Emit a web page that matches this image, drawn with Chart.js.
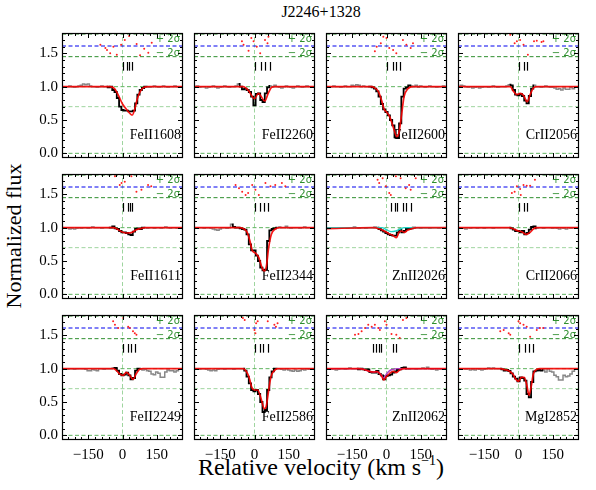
<!DOCTYPE html>
<html>
<head>
<meta charset="utf-8">
<script src="https://cdn.jsdelivr.net/npm/chart.js@4.4.1/dist/chart.umd.min.js"></script>
<style>
body{margin:0;background:#fff;width:596px;height:490px;position:relative;overflow:hidden;font-family:"Liberation Serif",serif}
canvas{position:absolute}
.t{position:absolute;white-space:nowrap;color:#000;transform:translate(-50%,-50%)}
</style>
</head>
<body>
<div class="t" style="left:321px;top:12px;font-size:16px">J2246+1328</div>
<div class="t" style="left:14px;top:236px;font-size:22px;transform:translate(-50%,-50%) rotate(-90deg)">Normalized flux</div>
<div class="t" style="left:321px;top:467px;font-size:24px">Relative velocity (km s<sup style="font-size:14px;vertical-align:10px;line-height:0">&minus;1</sup>)</div>
<script>
// velocity grid (km/s)
const vel = [-260,-250,-240,-230,-220,-210,-200,-190,-180,-170,
  -160,-150,-140,-130,-120,-110,-100,-90,-80,-70,
  -60,-50,-40,-30,-20,-10,0,10,20,30,
  40,50,60,70,80,90,100,110,120,130,
  140,150,160,170,180,190,200,210,220,230,
  240,250,260];

// normalized flux per transition
const fluxFeII1608 = [1.00,0.99,1.00,1.01,1.00,0.99,1.00,1.01,1.02,1.04,
  1.03,1.04,1.01,1.00,1.00,0.99,1.00,1.01,1.00,1.00,
  0.99,1.00,0.95,0.92,0.83,0.70,0.65,0.64,0.64,0.63,
  0.63,0.64,0.75,0.88,0.95,0.98,1.00,1.00,0.99,1.00,
  1.01,1.00,0.99,1.00,1.01,1.00,0.99,1.00,1.00,1.01,
  1.00,0.99,1.00];
const fluxFeII2260 = [1.00,1.01,0.99,1.00,1.00,0.98,0.99,1.00,1.01,1.00,
  0.98,0.99,1.00,1.01,1.00,0.99,1.00,1.00,1.01,1.04,
  1.00,0.96,0.97,0.95,0.92,0.85,0.72,0.89,0.90,0.80,
  0.77,0.90,0.99,1.01,1.00,1.02,1.00,0.99,0.98,1.00,
  1.01,1.00,0.99,0.98,1.00,1.01,1.00,0.99,1.00,1.01,
  1.00,1.00,0.99];
const fluxFeII2600 = [1.00,0.99,1.00,1.01,1.00,1.00,0.99,1.00,1.01,1.00,
  1.00,1.02,1.01,1.03,1.02,1.00,1.01,1.00,1.00,1.00,
  0.99,0.97,0.93,0.85,0.74,0.66,0.62,0.57,0.50,0.42,
  0.24,0.23,0.45,0.85,0.97,0.99,1.02,1.01,1.00,1.02,
  0.99,1.01,1.00,0.99,1.00,1.01,1.00,1.00,0.99,1.00,
  1.00,1.01,1.00];
const fluxCrII2056 = [1.00,1.02,1.01,1.00,0.99,1.00,0.98,0.99,1.00,0.98,
  0.99,1.00,1.00,0.99,1.00,1.01,1.00,0.99,1.00,1.00,
  1.00,1.01,1.03,1.02,0.95,0.88,0.87,0.89,0.86,0.79,
  0.75,0.86,0.97,1.02,1.00,1.00,0.99,1.00,1.01,1.00,
  0.99,0.99,0.98,0.96,0.97,0.95,0.98,0.96,0.96,0.99,
  0.97,1.00,1.00];
const fluxFeII1611 = [1.00,0.99,1.00,0.98,0.99,0.98,0.99,1.00,0.99,1.00,
  1.00,0.99,1.00,1.01,1.00,1.00,1.00,0.99,1.00,1.00,
  1.00,1.00,1.02,0.99,0.98,0.95,0.93,0.93,0.92,0.90,
  0.89,0.94,0.98,0.99,0.98,1.00,1.00,0.99,1.00,1.00,
  0.99,1.00,1.00,0.99,1.00,1.01,1.00,0.99,1.00,1.00,
  0.99,1.00,1.00];
const fluxFeII2344 = [1.00,0.99,1.00,1.00,0.99,1.00,1.00,0.99,0.98,0.97,
  0.96,0.98,1.00,1.00,0.99,1.00,1.05,1.01,1.00,1.00,
  0.99,0.98,0.97,0.90,0.75,0.66,0.66,0.58,0.50,0.40,
  0.36,0.37,0.80,0.96,0.98,0.99,1.00,1.01,1.00,1.00,
  1.02,1.00,0.99,1.00,1.00,1.00,0.99,1.00,1.01,1.00,
  1.00,1.00,1.00];
const fluxZnII2026 = [0.99,0.99,1.00,1.00,0.99,1.00,0.99,1.00,1.00,0.99,
  1.00,1.00,1.01,1.00,0.99,1.00,1.00,0.99,1.00,1.00,
  1.00,1.01,1.00,0.98,0.96,0.94,0.92,0.90,0.89,0.88,
  0.88,0.93,0.97,0.93,0.95,0.98,0.98,0.99,1.00,1.00,
  1.00,0.99,1.00,1.00,1.00,0.99,1.00,1.00,1.00,0.99,
  1.00,1.00,1.00];
const fluxCrII2066 = [1.00,1.00,0.99,0.98,1.00,0.99,1.00,1.00,0.99,1.00,
  1.00,0.99,1.00,1.00,1.00,0.99,1.00,1.00,1.00,1.00,
  1.00,1.00,1.00,0.99,0.97,0.95,0.95,0.93,0.95,0.90,
  0.92,0.97,1.01,1.02,0.99,1.00,1.00,0.99,1.00,1.00,
  1.00,0.99,1.00,0.99,0.98,1.00,0.99,0.98,1.00,0.99,
  1.00,1.00,1.00];
const fluxFeII2249 = [1.00,1.00,0.99,1.00,1.00,0.99,1.00,1.00,1.00,1.00,
  0.99,0.97,0.97,0.99,0.98,0.97,1.00,1.00,0.99,1.00,
  1.00,1.00,1.01,1.01,0.97,0.92,0.90,0.91,0.94,0.90,
  0.84,0.86,0.97,1.00,1.00,0.98,0.99,0.97,0.96,0.92,
  0.91,0.95,0.93,0.87,0.87,0.95,0.98,0.97,0.97,0.95,
  0.97,0.99,1.00];
const fluxFeII2586 = [1.00,1.00,0.99,1.00,1.00,0.99,0.98,0.97,0.98,0.97,
  0.99,1.00,1.00,0.99,1.00,1.00,1.00,0.99,1.00,1.00,
  1.00,1.00,0.97,0.88,0.78,0.68,0.66,0.68,0.62,0.50,
  0.35,0.38,0.68,0.87,0.96,1.00,1.00,1.00,0.99,0.98,
  1.00,0.98,0.97,0.96,0.98,0.96,0.97,0.99,0.98,1.00,
  0.99,1.00,1.00];
const fluxZnII2062 = [1.00,1.00,0.99,1.00,0.98,0.99,1.00,1.00,0.99,1.00,
  1.01,1.00,1.00,1.00,0.99,1.00,0.99,0.98,0.99,0.95,
  0.94,0.94,0.965,0.92,0.90,0.84,0.89,0.90,0.91,0.94,
  0.96,0.98,0.99,1.01,1.02,1.00,0.99,1.00,1.00,0.99,
  1.00,1.00,1.01,1.00,1.02,1.00,0.99,1.00,0.98,1.00,
  0.99,1.00,1.00];
const fluxMgI2852 = [0.99,1.00,1.00,0.99,1.00,0.98,0.99,0.98,1.00,0.99,
  0.98,0.99,1.00,1.01,1.00,1.01,1.00,1.00,1.00,0.99,
  0.97,0.98,0.965,0.93,0.88,0.85,0.81,0.87,0.86,0.82,
  0.62,0.57,0.80,0.96,0.97,0.98,0.97,0.98,0.95,1.00,
  0.96,0.95,0.90,0.88,0.83,0.83,0.90,0.88,0.89,0.92,
  0.96,0.99,1.00];

// fitted model, [velocity, flux]
const modelFeII1608 = [[-265,1],[-55,1],[-35,0.97],[-18,0.87],[0,0.74],[20,0.65],[43,0.575],[55,0.68],[65,0.82],[78,0.93],[95,0.99],[115,1],[265,1]];
const modelFeII2260 = [[-265,1],[-50,1],[-26,0.94],[0,0.82],[17,0.9],[45,0.785],[60,0.9],[75,0.99],[90,1],[265,1]];
const modelFeII2600 = [[-265,1],[-65,1],[-51,0.98],[-36,0.93],[-22,0.8],[-10,0.66],[0,0.62],[14,0.55],[29,0.4],[45,0.25],[54,0.3],[65,0.55],[77,0.85],[94,0.97],[116,1],[265,1]];
const modelCrII2056 = [[-265,1],[-36,1],[-22,0.93],[-7,0.88],[7,0.9],[22,0.87],[38,0.775],[51,0.88],[65,0.98],[80,1],[265,1]];
const modelFeII1611 = [[-265,1],[-41,1],[-19,0.97],[-4,0.94],[17,0.92],[39,0.925],[61,0.97],[83,0.99],[100,1],[265,1]];
const modelFeII2344 = [[-265,1],[-68,1],[-46,0.98],[-32,0.93],[-20,0.8],[-10,0.66],[4,0.62],[19,0.55],[33,0.4],[43,0.35],[52,0.42],[62,0.7],[74,0.9],[91,0.98],[110,1],[265,1]];
const modelZnII2026 = [[-265,0.985],[-60,1],[-30,0.98],[-10,0.95],[10,0.91],[30,0.88],[43,0.85],[55,0.93],[65,0.95],[78,0.93],[92,0.96],[115,0.99],[135,1],[265,1]];
const modelCrII2066 = [[-265,1],[-40,1],[-22,0.98],[0,0.95],[14,0.94],[33,0.9],[51,0.93],[65,0.98],[80,1],[265,1]];
const modelFeII2249 = [[-265,1],[-40,1],[-26,0.97],[-12,0.92],[3,0.9],[17,0.945],[32,0.9],[46,0.84],[61,0.93],[75,0.99],[90,1],[265,1]];
const modelFeII2586 = [[-265,1],[-51,1],[-36,0.96],[-22,0.85],[-12,0.72],[0,0.68],[14,0.68],[29,0.55],[43,0.4],[51,0.43],[61,0.65],[72,0.88],[87,0.97],[101,1],[265,1]];
const modelZnII2062 = [[-265,1],[-120,1],[-100,0.99],[-75,0.96],[-55,0.95],[-43,0.955],[-30,0.93],[-20,0.88],[-12,0.83],[0,0.88],[14,0.93],[29,0.96],[43,0.94],[58,0.98],[80,1],[265,1]];
const modelMgI2852 = [[-265,1],[-80,1],[-65,0.99],[-43,0.97],[-25,0.92],[-10,0.835],[0,0.81],[12,0.87],[25,0.87],[36,0.76],[46,0.6],[55,0.72],[65,0.92],[80,0.99],[94,1],[265,1]];

// single-ion contributions in blended lines
const partZnII2026 = [[-265,1],[-20,1],[0,0.97],[20,0.94],[40,0.95],[60,0.98],[77,1],[265,1]];
const partZnII2062 = [[-265,1],[-120,1],[-100,0.99],[-75,0.96],[-55,0.95],[-43,0.955],[-30,0.93],[-20,0.89],[-12,0.86],[0,0.92],[14,0.97],[29,0.99],[45,1],[265,1]];

// fitted velocity window
const winFeII1608 = [-75, 113];
const winFeII2260 = [-75, 70];
const winFeII2600 = [-80, 110];
const winCrII2056 = [-45, 75];
const winFeII1611 = [-60, 100];
const winFeII2344 = [-105, 105];
const winZnII2026 = [-40, 130];
const winCrII2066 = [-45, 85];
const winFeII2249 = [-40, 85];
const winFeII2586 = [-50, 100];
const winZnII2062 = [-135, 95];
const winMgI2852 = [-80, 115];

// residuals, [velocity, offset position]
const residFeII1608 = [[-97,1.63],[-75,1.58],[-68,1.55],[-54,1.5],[-40,1.6],[-25,1.48],[-6,1.63],[10,1.7],[29,1.76],[62,1.64],[77,1.47],[95,1.57],[113,1.51],[128,1.66]];
const residFeII2260 = [[-55,1.68],[-48,1.63],[-26,1.54],[-14,1.73],[-4,1.68],[10,1.6],[25,1.5],[46,1.7],[57,1.65],[61,1.75]];
const residFeII2600 = [[-51,1.53],[-43,1.6],[-25,1.65],[-14,1.75],[0,1.73],[12,1.58],[29,1.55],[43,1.5],[72,1.7],[87,1.63],[106,1.58],[116,1.65]];
const residCrII2056 = [[-36,1.78],[-17,1.65],[-7,1.68],[7,1.7],[22,1.63],[41,1.48],[68,1.68],[80,1.69],[101,1.67],[109,1.68]];
const residFeII1611 = [[-33,1.77],[-12,1.64],[-4,1.67],[10,1.69],[39,1.77],[61,1.54],[83,1.57],[112,1.64],[126,1.62]];
const residFeII2344 = [[-83,1.64],[-68,1.59],[-54,1.54],[-39,1.49],[-28,1.52],[-10,1.64],[4,1.57],[19,1.49],[48,1.67],[70,1.62],[91,1.64],[120,1.67],[135,1.62]];
const residZnII2026 = [[-39,1.72],[-32,1.67],[-17,1.74],[-3,1.62],[12,1.52],[19,1.49],[41,1.77],[62,1.74],[84,1.59],[99,1.64],[106,1.57],[128,1.74]];
const residCrII2066 = [[-29,1.52],[-17,1.54],[-7,1.62],[7,1.58],[10,1.49],[22,1.64],[36,1.63],[51,1.63],[72,1.72]];
const residFeII2249 = [[-41,1.71],[-33,1.66],[-19,1.61],[3,1.76],[25,1.63],[32,1.61],[46,1.56],[54,1.53],[61,1.51]];
const residFeII2586 = [[-51,1.76],[-43,1.73],[0,1.58],[4,1.53],[7,1.68],[14,1.71],[58,1.71],[87,1.66],[94,1.63],[101,1.68]];
const residZnII2062 = [[-138,1.51],[-123,1.52],[-109,1.56],[-94,1.61],[-80,1.66],[-65,1.63],[-51,1.66],[-36,1.61],[-29,1.58],[-7,1.71],[0,1.66],[22,1.52],[43,1.51],[58,1.46],[72,1.73],[87,1.76]];
const residMgI2852 = [[-80,1.56],[-65,1.58],[-43,1.53],[-36,1.51],[0,1.71],[7,1.68],[22,1.66],[36,1.63],[51,1.48],[80,1.58],[94,1.61],[109,1.61]];

// component velocities
const compsFeII1608 = [0, 18, 30, 42];
const compsFeII2260 = [0, 30, 48, 66];
const compsFeII2600 = [0, 27, 41, 59];
const compsCrII2056 = [0, 25, 39];
const compsFeII1611 = [0, 22, 34, 43];
const compsFeII2344 = [0, 24, 41, 59];
const compsZnII2026 = [19, 38, 46, 72, 87, 106];
const compsCrII2066 = [0, 25, 39];
const compsFeII2249 = [0, 22, 37, 55];
const compsFeII2586 = [0, 26, 39, 58];
const compsZnII2062 = [-61, -44, -33, -22, 27, 43];
const compsMgI2852 = [0, 29, 47, 65];

const panels = [
  {name:'FeII1608', flux:fluxFeII1608, model:modelFeII1608, win:winFeII1608, resid:residFeII1608, comps:compsFeII1608},
  {name:'FeII2260', flux:fluxFeII2260, model:modelFeII2260, win:winFeII2260, resid:residFeII2260, comps:compsFeII2260},
  {name:'FeII2600', flux:fluxFeII2600, model:modelFeII2600, win:winFeII2600, resid:residFeII2600, comps:compsFeII2600},
  {name:'CrII2056', flux:fluxCrII2056, model:modelCrII2056, win:winCrII2056, resid:residCrII2056, comps:compsCrII2056},
  {name:'FeII1611', flux:fluxFeII1611, model:modelFeII1611, win:winFeII1611, resid:residFeII1611, comps:compsFeII1611},
  {name:'FeII2344', flux:fluxFeII2344, model:modelFeII2344, win:winFeII2344, resid:residFeII2344, comps:compsFeII2344},
  {name:'ZnII2026', flux:fluxZnII2026, model:modelZnII2026, win:winZnII2026, resid:residZnII2026, comps:compsZnII2026, part:partZnII2026, partColor:'#22d3c5'},
  {name:'CrII2066', flux:fluxCrII2066, model:modelCrII2066, win:winCrII2066, resid:residCrII2066, comps:compsCrII2066},
  {name:'FeII2249', flux:fluxFeII2249, model:modelFeII2249, win:winFeII2249, resid:residFeII2249, comps:compsFeII2249},
  {name:'FeII2586', flux:fluxFeII2586, model:modelFeII2586, win:winFeII2586, resid:residFeII2586, comps:compsFeII2586},
  {name:'ZnII2062', flux:fluxZnII2062, model:modelZnII2062, win:winZnII2062, resid:residZnII2062, comps:compsZnII2062, part:partZnII2062, partColor:'#b040c0'},
  {name:'MgI2852', flux:fluxMgI2852, model:modelMgI2852, win:winMgI2852, resid:residMgI2852, comps:compsMgI2852},
];

Chart.defaults.font.family = '"Liberation Serif", serif';
Chart.defaults.font.size = 15;
Chart.defaults.color = '#000';

const xMin = -265, xMax = 265, yMin = -0.07, yMax = 1.805;
const colLeft = [62, 194, 326, 458];
const rowTop = [33, 174, 315];
const frameW = 121, frameH = 125;
const green = '#2f8f2f';

const deco = {
  id: 'deco',
  beforeDatasetsDraw(chart, args, o) {
    const {ctx, chartArea: a, scales: {y}} = chart;
    ctx.save();
    ctx.fillStyle = '#000';
    ctx.font = '14px "Liberation Serif"';
    ctx.textAlign = 'right';
    ctx.textBaseline = 'alphabetic';
    ctx.fillText(o.name, a.right - 2, y.getPixelForValue(0.22));
    ctx.restore();
  },
  afterDraw(chart, args, o) {
    const {ctx, chartArea: a, scales: {x, y}} = chart;
    ctx.save();
    ctx.fillStyle = green;
    ctx.font = '10px "DejaVu Sans"';
    ctx.textAlign = 'right';
    ctx.textBaseline = 'middle';
    ctx.fillText('+ 2\u03c3', a.right - 3, y.getPixelForValue(1.715));
    ctx.fillText('\u2212 2\u03c3', a.right - 3, y.getPixelForValue(1.5));
    ctx.strokeStyle = '#000';
    ctx.lineWidth = 1.2;
    o.comps.forEach(v => {
      const px = Math.round(x.getPixelForValue(v)) + 0.5;
      ctx.beginPath();
      ctx.moveTo(px, y.getPixelForValue(1.24));
      ctx.lineTo(px, y.getPixelForValue(1.37));
      ctx.stroke();
    });
    ctx.lineWidth = 1;
    const seg = (x0, y0, x1, y1) => { ctx.beginPath(); ctx.moveTo(x0, y0); ctx.lineTo(x1, y1); ctx.stroke(); };
    x.ticks.forEach(t => {
      const px = Math.round(x.getPixelForValue(t.value)) + 0.5;
      seg(px, a.bottom, px, a.bottom - 5);
      seg(px, a.top, px, a.top + 5);
    });
    for (let v = -240; v <= 240; v += 30) {
      if (v % 150 === 0) continue;
      const px = Math.round(x.getPixelForValue(v)) + 0.5;
      seg(px, a.bottom, px, a.bottom - 3);
      seg(px, a.top, px, a.top + 3);
    }
    y.ticks.forEach(t => {
      const py = Math.round(y.getPixelForValue(t.value)) + 0.5;
      seg(a.left, py, a.left + 5, py);
      seg(a.right, py, a.right - 5, py);
    });
    for (let k = 0; k <= 18; k++) {
      if (k % 5 === 0) continue;
      const py = Math.round(y.getPixelForValue(k / 10)) + 0.5;
      seg(a.left, py, a.left + 3, py);
      seg(a.right, py, a.right - 3, py);
    }
    ctx.lineWidth = 1.2;
    ctx.strokeRect(a.left + 0.5, a.top + 0.5, a.width - 1, a.height - 1);
    ctx.restore();
  }
};

const hline = (yv, color) => ({data: [{x: xMin, y: yv}, {x: xMax, y: yv}], borderColor: color, borderWidth: 1,
  borderDash: [4, 2.5], pointRadius: 0, order: 10});

panels.forEach((p, i) => {
  const col = i % 4, row = Math.floor(i / 4);
  const cv = document.createElement('canvas');
  cv.width = 175;
  cv.height = 165;
  cv.style.left = '0px';
  cv.style.top = '0px';
  document.body.appendChild(cv);

  const inWin = c => c.p0.parsed.x >= p.win[0] && c.p1.parsed.x <= p.win[1];
  const datasets = [
    {data: p.model.map(([x, y]) => ({x, y})), borderColor: 'rgba(245,0,0,0.9)', borderWidth: 1.7,
      pointRadius: 0, cubicInterpolationMode: 'monotone', order: 0},
    {data: vel.map((v, k) => ({x: v, y: p.flux[k]})), stepped: 'middle', borderColor: '#888', borderWidth: 1.5,
      pointRadius: 0, order: 2,
      segment: {borderColor: c => inWin(c) ? '#000' : '#888', borderWidth: c => inWin(c) ? 1.8 : 1.5}},
    {data: p.resid.map(([x, y]) => ({x, y})), showLine: false, pointRadius: 1, pointBorderWidth: 0,
      pointBackgroundColor: '#ff2020', order: 3},
    hline(1.79, green), hline(1.61, '#0000ee'), hline(1.45, green),
    hline(1.0, '#5fb35f'), hline(0.7, '#9fd59f'), hline(0, '#5fb35f'),
    {data: [{x: 0, y: yMin}, {x: 0, y: yMax}], borderColor: '#9fd59f', borderWidth: 1, borderDash: [4, 2.5],
      pointRadius: 0, order: 10},
  ];
  if (p.part) {
    datasets.push({data: p.part.map(([x, y]) => ({x, y})), borderColor: p.partColor, borderWidth: 1.4,
      pointRadius: 0, cubicInterpolationMode: 'monotone', order: 1});
  }

  const chart = new Chart(cv, {
    type: 'line',
    data: {datasets},
    options: {
      responsive: false,
      maintainAspectRatio: false,
      animation: false,
      layout: {padding: {top: 4, right: 4, left: 0, bottom: 0}},
      plugins: {legend: {display: false}, tooltip: {enabled: false},
        deco: {name: p.name, comps: p.comps}},
      scales: {
        x: {type: 'linear', min: xMin, max: xMax,
          grid: {display: false, drawTicks: false}, border: {display: false},
          ticks: {display: row === 2, stepSize: 150, includeBounds: false, autoSkip: false, maxRotation: 0, padding: 6,
            callback: v => v < 0 ? '\u2212' + Math.abs(v) : '' + v},
          afterFit: s => { s.height = 28; }},
        y: {type: 'linear', min: yMin, max: yMax,
          grid: {display: false, drawTicks: false}, border: {display: false},
          ticks: {display: col === 0, stepSize: 0.5, includeBounds: false, padding: 4,
            callback: v => v.toFixed(1)},
          afterFit: s => { s.width = 44; }}
      }
    },
    plugins: [deco]
  });

  // size the canvas so the plot frame matches the panel box, then place it
  for (let it = 0; it < 3; it++) {
    const a = chart.chartArea;
    const w = Math.round(chart.width - (a.right - a.left - frameW));
    const h = Math.round(chart.height - (a.bottom - a.top - frameH));
    if (w === chart.width && h === chart.height) break;
    chart.resize(w, h);
  }
  const a = chart.chartArea;
  cv.style.left = (colLeft[col] - a.left) + 'px';
  cv.style.top = (rowTop[row] - a.top) + 'px';
});
</script>
</body>
</html>
